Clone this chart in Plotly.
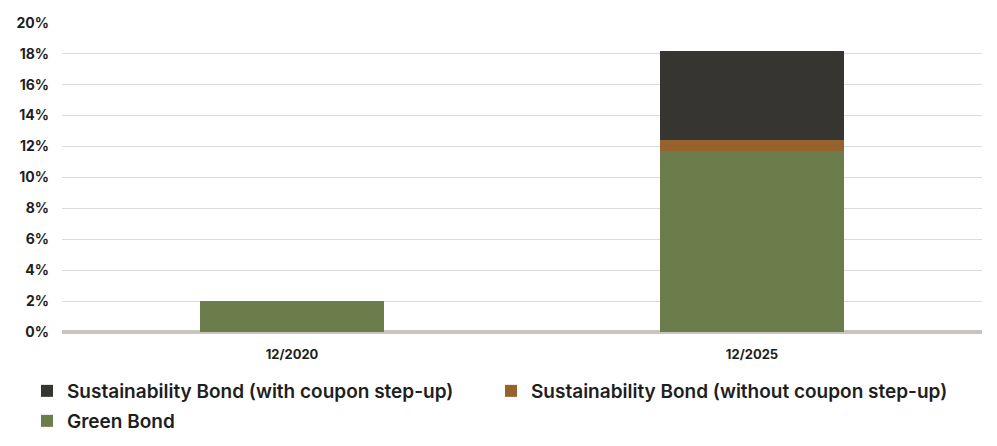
import plotly.graph_objects as go

categories = ["12/2020", "12/2025"]
green_bond = [2.0, 11.7]
sust_without = [0.0, 0.75]
sust_with = [0.0, 5.75]
tick_vals = [0, 2, 4, 6, 8, 10, 12, 14, 16, 18, 20]
tick_text = [f"{v}%" for v in tick_vals]

fig = go.Figure()
fig.add_trace(go.Bar(x=categories, y=green_bond, name="Green Bond",
                     marker=dict(color="#6a7d4a", line=dict(width=0)),
                     legend="legend3"))
fig.add_trace(go.Bar(x=categories, y=sust_without, name="Sustainability Bond (without coupon step-up)",
                     marker=dict(color="#98622e", line=dict(width=0)),
                     legend="legend2"))
fig.add_trace(go.Bar(x=categories, y=sust_with, name="Sustainability Bond (with coupon step-up)",
                     marker=dict(color="#363532", line=dict(width=0)),
                     legend="legend"))

legend_font = dict(family="Inter", size=19, weight=600, color="#1e1e1e")
H = 446
W = 997


def leg(x_px, y_px):
    return dict(orientation="h", xref="container", yref="container",
                x=x_px / W, y=1 - y_px / H, xanchor="left", yanchor="middle",
                font=legend_font, itemclick=False, bgcolor="rgba(0,0,0,0)")


fig.update_layout(
    barmode="stack",
    bargap=0.6,
    width=W, height=H,
    margin=dict(l=54, r=23, t=14, b=122, autoexpand=False),
    paper_bgcolor="white", plot_bgcolor="white",
    font=dict(family="Inter", color="#1e1e1e"),
    showlegend=True,
    legend=leg(19, 383),
    legend2=leg(483, 383),
    legend3=leg(19, 413),
    xaxis=dict(tickfont=dict(size=13, weight=700, color="#1e1e1e"),
               showgrid=False, showline=False, ticks="",
               ticklabelstandoff=13, automargin=False),
    yaxis=dict(range=[0, 20.05], tickvals=tick_vals, ticktext=tick_text,
               tickfont=dict(size=14, weight=700, color="#1e1e1e"),
               showgrid=True, gridcolor="#dedada", gridwidth=1,
               zeroline=True, zerolinecolor="#c8c4c0", zerolinewidth=4,
               ticks="", ticklabelstandoff=12, automargin=False),
)

fig.write_html("out.html")
